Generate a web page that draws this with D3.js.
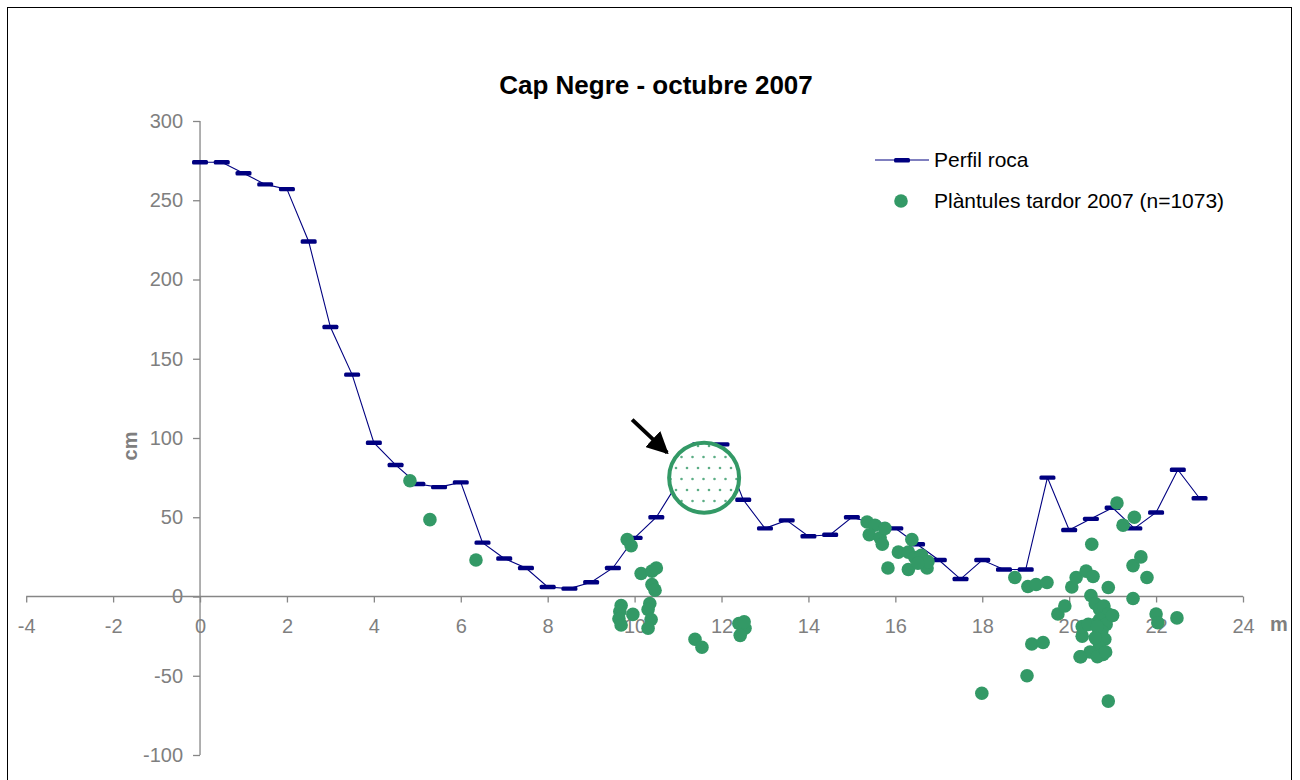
<!DOCTYPE html>
<html><head><meta charset="utf-8">
<script src="https://cdn.jsdelivr.net/npm/d3@7"></script>
<style>body{margin:0;background:#fff}svg{display:block}</style>
</head><body><svg id="c" width="1300" height="780"></svg>
<script>
const title = "Cap Negre - octubre 2007";
const xTicks = [-4,-2,0,2,4,6,8,10,12,14,16,18,20,22,24];
const yTicks = [-100,-50,0,50,100,150,200,250,300];
const profileX = [0,0.5,1,1.5,2,2.5,3,3.5,4,4.5,5,5.5,6,6.5,7,7.5,8,8.5,9,9.5,10,10.5,11,11.5,12,12.5,13,13.5,14,14.5,15,15.5,16,16.5,17,17.5,18,18.5,19,19.5,20,20.5,21,21.5,22,22.5,23];
const profileY = [274,274,267,260,257,224,170,140,97,83,71,69,72,34,24,18,6,5,9,18,37,50,72,96,96,61,43,48,38,39,50,46,43,33,23,11,23,17,17,75,42,49,56,43,53,80,62];
const seedX = [4.83,5.29,6.35,9.83,9.92,10.15,10.4,10.5,10.4,10.47,
  9.69,9.66,9.64,9.69,9.96,10.35,10.31,10.38,10.31,11.39,11.55,12.4,12.54,12.43,12.52,
  15.35,15.53,15.4,15.65,15.76,15.7,15.83,16.07,16.38,16.3,16.45,16.6,16.3,16.73,16.75,16.52,
  18.75,19.05,19.24,19.49,17.99,19.03,19.14,19.4,19.74,19.9,20.06,20.16,20.39,20.55,20.52,20.5,20.9,
  21.1,21.24,21.5,21.47,21.65,21.79,21.47,22.0,22.04,22.48,20.9,20.27,20.3,20.3,
  20.6,20.7,20.8,20.9,20.7,20.85,20.6,20.75,20.63,20.82,20.7,20.48,20.78,20.65,20.84,21.0,20.44,20.64,20.6,20.25];
const seedY = [73,48.5,23,36,32,14.5,16,18,7.5,4,
  -5.7,-9.5,-14,-18,-11.3,-4.4,-8.2,-14.5,-20,-27,-32,-17,-20,-24.5,-16,
  47,45,39,37,43,33,18,28,36,28,24.6,26,17,18,22,21,
  12,6.3,7.6,8.8,-61,-50,-30,-29,-11,-6,6,12,16,12.6,33,0.6,5.7,
  59,45,50,19.5,25,12,-1.3,-11,-16.6,-13.5,-66,-38,-25,-19,
  -4.4,-8,-6,-11,-14.5,-17.6,-17.6,-22,-27,-27,-32,-35,-36.5,-38,-35,-12,-17.6,-19,-26,-38];
const legendLabels = ["Perfil roca","Plàntules tardor 2007 (n=1073)"];

const navy = "#000080", green = "#339966", gray = "#868686", tgray = "#7f7f7f";
const svg = d3.select("#c");
const font = "'Liberation Sans', Arial, sans-serif";

svg.append("rect").attr("x",7.5).attr("y",7.5).attr("width",1284).attr("height",800)
  .attr("fill","none").attr("stroke","#000").attr("stroke-width",1);

const x = d3.scaleLinear().domain([-4,24]).range([26.2,1243]);
const y = d3.scaleLinear().domain([-100,300]).range([755,121]);

svg.append("text").attr("x",656).attr("y",94).attr("text-anchor","middle")
  .attr("font-family",font).attr("font-weight","bold").attr("font-size",26).text(title);

const fmt = d => String(d);
const yAxis = svg.append("g").attr("transform",`translate(${x(0)},0)`)
  .call(d3.axisLeft(y).tickValues(yTicks).tickSize(7).tickPadding(10).tickFormat(fmt));
const xAxis = svg.append("g").attr("transform",`translate(0,${y(0)})`)
  .call(d3.axisBottom(x).tickValues(xTicks).tickSize(6).tickPadding(16).tickFormat(fmt));
[yAxis,xAxis].forEach(a=>{
  a.selectAll("path,line").attr("stroke",gray).attr("stroke-width",1.3);
  a.selectAll("text").attr("fill",tgray).attr("font-family",font).attr("font-size",20);
});
yAxis.select(".domain").attr("d",`M0,${y(300)}V${y(-100)}`);
xAxis.select(".domain").attr("d",`M${x(-4)},0H${x(24)}`);

svg.append("text").attr("transform",`translate(137,${y(100)+8}) rotate(-90)`)
  .attr("text-anchor","middle").attr("font-family",font).attr("font-weight","bold")
  .attr("font-size",20).attr("fill",tgray).text("cm");
svg.append("text").attr("x",1270).attr("y",y(0)+34).attr("font-family",font)
  .attr("font-weight","bold").attr("font-size",20).attr("fill",tgray).text("m");

const prof = profileX.map((v,i)=>[v,profileY[i]]);
svg.append("path").datum(prof).attr("fill","none").attr("stroke",navy).attr("stroke-width",1.1)
  .attr("d",d3.line().x(d=>x(d[0])).y(d=>y(d[1])));
svg.append("g").selectAll("rect").data(prof).join("rect")
  .attr("x",d=>x(d[0])-8).attr("y",d=>y(d[1])-2.2).attr("width",16).attr("height",4.4)
  .attr("rx",1.5).attr("fill",navy);

const seeds = seedX.map((v,i)=>[v,seedY[i]]);
svg.append("g").selectAll("circle").data(seeds).join("circle")
  .attr("cx",d=>x(d[0])).attr("cy",d=>y(d[1])).attr("r",6.8).attr("fill",green);

const defs = svg.append("defs");
const pat = defs.append("pattern").attr("id","dots").attr("patternUnits","userSpaceOnUse")
  .attr("width",22).attr("height",22).attr("patternTransform","translate(3,4)");
[[2,2],[13,2],[7.5,13],[18.5,13]].forEach(p=>
  pat.append("circle").attr("cx",p[0]).attr("cy",p[1]).attr("r",1.3).attr("fill",green).attr("opacity",0.8));
const cx = x(11.6), cy = y(75);
svg.append("circle").attr("cx",cx).attr("cy",cy).attr("r",35).attr("fill","#fff");
svg.append("circle").attr("cx",cx).attr("cy",cy).attr("r",35).attr("fill","url(#dots)")
  .attr("stroke",green).attr("stroke-width",4);
defs.append("marker").attr("id","ah").attr("viewBox","0 0 10 10").attr("refX",9).attr("refY",5)
  .attr("markerWidth",5.5).attr("markerHeight",5.5).attr("orient","auto")
  .append("path").attr("d","M0,0L10,5L0,10z").attr("fill","#000");
svg.append("line").attr("x1",cx-72).attr("y1",cy-58).attr("x2",cx-37).attr("y2",cy-25)
  .attr("stroke","#000").attr("stroke-width",4).attr("marker-end","url(#ah)");

const lg = svg.append("g").attr("font-family",font).attr("font-size",21);
lg.append("line").attr("x1",875).attr("x2",929).attr("y1",160).attr("y2",160).attr("stroke",navy).attr("stroke-width",1);
lg.append("rect").attr("x",894).attr("y",158).attr("width",16).attr("height",4.4).attr("rx",1.5).attr("fill",navy);
lg.append("circle").attr("cx",901).attr("cy",201).attr("r",6.8).attr("fill",green);
lg.selectAll("text").data(legendLabels).join("text")
  .attr("x",934).attr("y",(d,i)=>160+i*41).attr("dy","0.35em").attr("fill","#000").text(d=>d);
</script></body></html>
